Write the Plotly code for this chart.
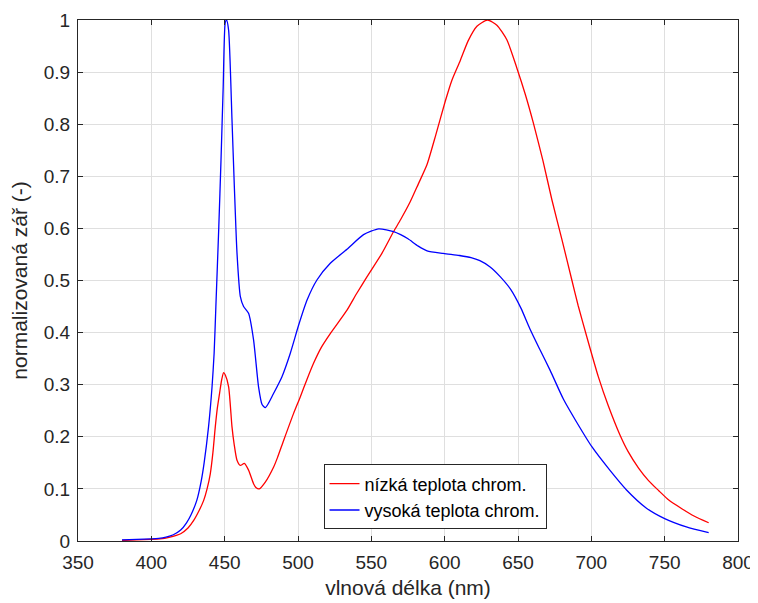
import plotly.graph_objects as go

# nízká teplota chromatičnosti (červená)
wl_low = [380, 390, 400, 406, 412, 420, 425, 429, 432.5, 435.7, 438, 440.2, 442, 443.6, 445, 446.5,
          448, 449.3, 450.5, 452.7, 455, 456.5, 458.4, 460.7, 463.4, 466.3, 469.7, 471.5, 473.6,
          477.7, 483.4, 486, 490.2, 497, 501.6, 506.1, 510.6, 516, 522, 533.4, 540, 547, 557.2,
          565.2, 570, 576.5, 582, 587.9, 594, 600.4, 605, 610.6, 616, 622, 629.2, 635.6, 642.4,
          649.2, 655, 660.5, 667, 673.1, 680, 686.7, 691, 696.9, 704.8, 711.5, 719.6, 725, 732.2,
          739, 745.8, 753, 761.7, 770, 780]
val_low = [0.001, 0.002, 0.003, 0.004, 0.007, 0.014, 0.025, 0.04, 0.058, 0.078, 0.1, 0.129, 0.17,
           0.219, 0.255, 0.283, 0.31, 0.323, 0.318, 0.296, 0.219, 0.185, 0.155, 0.145, 0.149,
           0.136, 0.11, 0.102, 0.1, 0.113, 0.142, 0.16, 0.193, 0.245, 0.277, 0.31, 0.341, 0.372,
           0.398, 0.443, 0.475, 0.507, 0.552, 0.594, 0.617, 0.651, 0.685, 0.722, 0.78, 0.844,
           0.885, 0.922, 0.96, 0.988, 1.0, 0.99, 0.962, 0.908, 0.857, 0.802, 0.73, 0.655, 0.578,
           0.501, 0.452, 0.392, 0.315, 0.26, 0.203, 0.172, 0.14, 0.116, 0.097, 0.078, 0.062, 0.048,
           0.035]

# vysoká teplota chromatičnosti (modrá)
wl_high = [380, 390, 400, 405, 410, 415, 420, 424, 427, 431, 434, 436, 439, 441.4, 442.8, 444, 446,
           447.5, 449, 450.4, 451.3, 452.7, 455, 456.6, 458.4, 460.7, 462.9, 466.3, 469.7, 473.1,
           475.5, 477.7, 480, 482.2, 489, 494.7, 500.4, 506.1, 512.9, 522, 533.4, 544.7, 555,
           565.2, 570, 575, 582, 588, 599, 610, 618, 624, 631, 638, 645, 652, 658, 665, 672, 681,
           690, 700.6, 712.6, 724, 737.6, 750, 764.8, 780]
val_high = [0.002, 0.003, 0.004, 0.005, 0.0075, 0.012, 0.021, 0.035, 0.05, 0.078, 0.115, 0.15,
            0.219, 0.296, 0.36, 0.45, 0.603, 0.731, 0.872, 0.995, 1.0, 0.98, 0.808, 0.68, 0.553,
            0.469, 0.45, 0.437, 0.386, 0.296, 0.262, 0.256, 0.265, 0.277, 0.315, 0.36, 0.414,
            0.462, 0.501, 0.533, 0.56, 0.588, 0.599, 0.594, 0.588, 0.58, 0.566, 0.557, 0.552,
            0.548, 0.544, 0.538, 0.526, 0.507, 0.483, 0.447, 0.408, 0.367, 0.327, 0.272, 0.228,
            0.18, 0.136, 0.098, 0.063, 0.043, 0.027, 0.016]

x_ticks = [350, 400, 450, 500, 550, 600, 650, 700, 750, 800]
y_ticks = [0, 0.1, 0.2, 0.3, 0.4, 0.5, 0.6, 0.7, 0.8, 0.9, 1]
y_labels = ["0", "0.1", "0.2", "0.3", "0.4", "0.5", "0.6", "0.7", "0.8", "0.9", "1"]

FONT = "Liberation Sans, Arial, Helvetica"
INK = "#262626"

fig = go.Figure()
fig.add_trace(go.Scatter(x=wl_low, y=val_low, mode="lines", name="nízká teplota chrom.",
                         line=dict(color="#ff0000", width=1.3, shape="spline", smoothing=0.6)))
fig.add_trace(go.Scatter(x=wl_high, y=val_high, mode="lines", name="vysoká teplota chrom.",
                         line=dict(color="#0000ff", width=1.3, shape="spline", smoothing=0.6)))

axis_common = dict(
    showline=True, linecolor=INK, linewidth=1, mirror="ticks",
    ticks="inside", ticklen=5, tickcolor=INK,
    showgrid=True, gridcolor="#dfdfdf", gridwidth=1, zeroline=False,
    tickfont=dict(family=FONT, size=19, color=INK), automargin=False,
)

fig.update_xaxes(range=[350, 800], tickvals=x_ticks, ticklabelstandoff=4,
                 title=dict(text="vlnová délka (nm)", font=dict(family=FONT, size=21, color=INK), standoff=8),
                 **axis_common)
fig.update_yaxes(range=[0, 1], tickvals=y_ticks, ticktext=y_labels, ticklabelstandoff=3,
                 title=dict(text="normalizovaná zář (-)", font=dict(family=FONT, size=21, color=INK), standoff=12),
                 **axis_common)

# stránka má okraj 8 px, proto je obrázek o 8 px menší a posunutý
fig.update_layout(
    width=750, height=595,
    margin=dict(l=70, r=20, t=12, b=62),
    plot_bgcolor="white", paper_bgcolor="white",
    legend=dict(x=0.372, y=0.147, xanchor="left", yanchor="top",
                bgcolor="white", bordercolor=INK, borderwidth=1,
                font=dict(family=FONT, size=18, color="#000000"),
                tracegroupgap=0),
)

fig.write_html("out.html")
